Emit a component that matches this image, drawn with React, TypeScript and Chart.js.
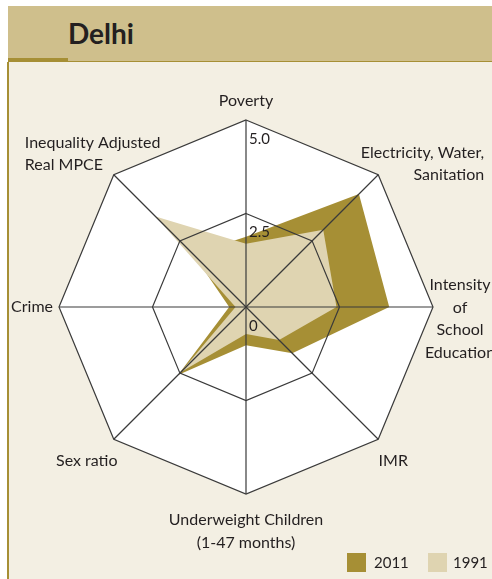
import React, { useEffect, useRef } from "react";
import { Chart, registerables } from "chart.js";

Chart.register(...registerables);

const categories: string[][] = [
  ["Poverty"],
  ["Electricity, Water,", "Sanitation"],
  ["Intensity", "of", "School", "Education"],
  ["IMR"],
  ["Underweight Children", "(1-47 months)"],
  ["Sex ratio"],
  ["Crime"],
  ["Inequality Adjusted", "Real MPCE"],
];
const values2011 = [1.88, 4.27, 3.83, 1.75, 1.02, 2.57, 0.45, 2.0];
const values1991 = [1.69, 2.92, 2.42, 1.25, 0.72, 2.47, 0.28, 3.42];
const seriesNames = ["2011", "1991"];
const tickValues = [0, 2.5, 5];
const tickLabels = ["0", "2.5", "5.0"];

const DARK = "#a68f35";
const LIGHT = "#dfd4b1";
const TEXT = "#231f20";
const FONT = "Lato, 'Noto Sans', sans-serif";

// label placement relative to each outer vertex (style only)
const labelPlacement = [
  { dx: 0, dy: -19, align: "center" },
  { dx: 106, dy: -22, align: "right" },
  { dx: 27, dy: -22, align: "center" },
  { dx: 15, dy: 22, align: "center" },
  { dx: 0, dy: 26, align: "center" },
  { dx: -27, dy: 22, align: "center" },
  { dx: -6, dy: 0, align: "right" },
  { dx: -89, dy: -32, align: "left" },
];

const radarDecor = {
  id: "radarDecor",
  beforeDatasetsDraw(chart: any) {
    const scale = chart.scales.r;
    const ctx = chart.ctx;
    const n = chart.data.labels.length;
    ctx.save();
    ctx.beginPath();
    for (let i = 0; i < n; i++) {
      const p = scale.getPointPosition(i, scale.drawingArea);
      if (i === 0) ctx.moveTo(p.x, p.y);
      else ctx.lineTo(p.x, p.y);
    }
    ctx.closePath();
    ctx.fillStyle = "#ffffff";
    ctx.fill();
    ctx.restore();
  },
  afterDraw(chart: any) {
    const scale = chart.scales.r;
    const ctx = chart.ctx;
    ctx.save();
    ctx.fillStyle = TEXT;
    ctx.textBaseline = "middle";
    ctx.font = `16px ${FONT}`;
    categories.forEach((lines, i) => {
      const p = scale.getPointPosition(i, scale.drawingArea);
      const pl = labelPlacement[i];
      ctx.textAlign = pl.align;
      lines.forEach((line, j) => {
        ctx.fillText(line, p.x + pl.dx, p.y + pl.dy + j * 22.5);
      });
    });
    ctx.font = `15px ${FONT}`;
    ctx.textAlign = "left";
    tickValues.forEach((v, i) => {
      const p = scale.getPointPositionForValue(0, v);
      ctx.fillText(tickLabels[i], p.x + 3, p.y + 19);
    });
    ctx.restore();
  },
};

export default function App() {
  const ref = useRef<HTMLCanvasElement>(null);
  useEffect(() => {
    if (!ref.current) return;
    const chart = new Chart(ref.current, {
      type: "radar",
      data: {
        labels: categories.map((c) => c.join(" ")),
        datasets: [
          {
            label: seriesNames[0],
            data: values2011,
            backgroundColor: DARK,
            borderWidth: 0,
            pointRadius: 0,
            fill: true,
            order: 2,
          },
          {
            label: seriesNames[1],
            data: values1991,
            backgroundColor: LIGHT,
            borderWidth: 0,
            pointRadius: 0,
            fill: true,
            order: 1,
          },
        ],
      },
      options: {
        responsive: false,
        animation: false,
        layout: { padding: { left: 59, right: 59, top: 120, bottom: 85 } },
        plugins: { legend: { display: false }, tooltip: { enabled: false } },
        scales: {
          r: {
            min: 0,
            max: 5,
            ticks: { display: false, stepSize: 2.5 },
            pointLabels: { display: false },
            grid: { circular: false, color: "#3a3a3a", lineWidth: 1.2, z: 1 },
            angleLines: { color: "#3a3a3a", lineWidth: 1.2 },
          },
        },
      },
      plugins: [radarDecor],
    });
    return () => chart.destroy();
  }, []);

  return (
    <div
      style={{
        position: "fixed",
        left: 0,
        top: 0,
        width: 492,
        height: 579,
        background: "#ffffff",
        overflow: "hidden",
        fontFamily: FONT,
      }}
    >
      <div style={{ position: "absolute", left: 8, top: 6, width: 484, height: 55, background: "#cfbf8c" }} />
      <div style={{ position: "absolute", left: 8, top: 61, width: 484, height: 1.5, background: DARK }} />
      <div style={{ position: "absolute", left: 8, top: 58, width: 60, height: 4, background: DARK }} />
      <div style={{ position: "absolute", left: 8, top: 62, width: 484, height: 517, background: "#f3efe3" }} />
      <div style={{ position: "absolute", left: 7, top: 62, width: 1.5, height: 517, background: DARK }} />
      <div
        style={{
          position: "absolute",
          left: 68,
          top: 15,
          fontSize: 28,
          fontWeight: 700,
          color: TEXT,
          lineHeight: "36px",
        }}
      >
        Delhi
      </div>
      <canvas ref={ref} width={492} height={579} style={{ position: "absolute", left: 0, top: 0 }} />
      <div style={{ position: "absolute", left: 347, top: 553, width: 19, height: 19, background: DARK }} />
      <div style={{ position: "absolute", left: 374, top: 552, fontSize: 15, lineHeight: "20px", color: TEXT }}>
        {seriesNames[0]}
      </div>
      <div style={{ position: "absolute", left: 428, top: 553, width: 19, height: 19, background: LIGHT }} />
      <div style={{ position: "absolute", left: 453, top: 552, fontSize: 15, lineHeight: "20px", color: TEXT }}>
        {seriesNames[1]}
      </div>
    </div>
  );
}
